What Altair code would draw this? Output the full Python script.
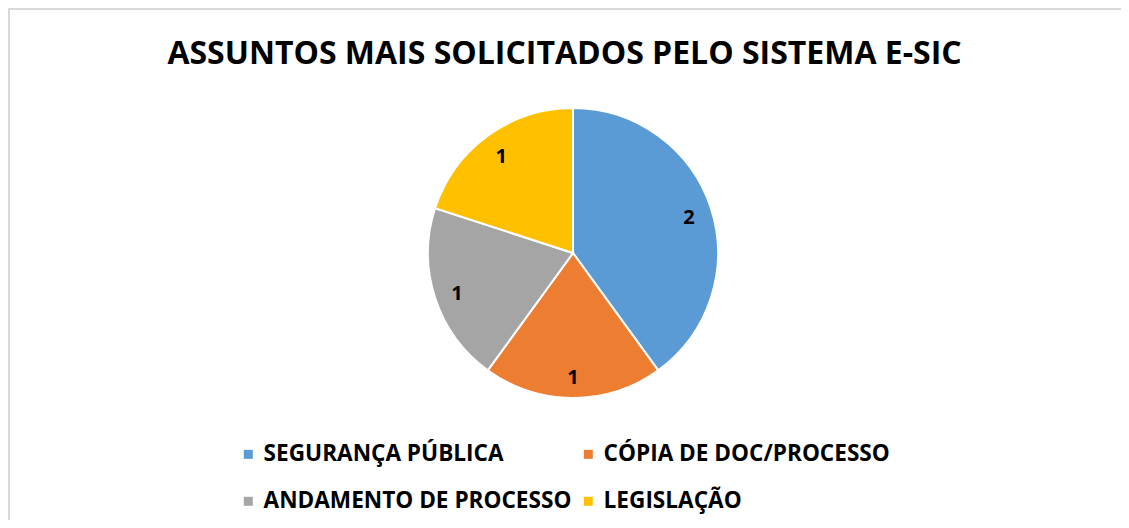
import altair as alt
import pandas as pd

categories = ["SEGURANÇA PÚBLICA", "CÓPIA DE DOC/PROCESSO", "ANDAMENTO DE PROCESSO", "LEGISLAÇÃO"]
values = [2, 1, 1, 1]
colors = ["#5B9BD5", "#ED7D31", "#A5A5A5", "#FFC000"]

df = pd.DataFrame({"assunto": categories, "qtd": values, "ordem": list(range(len(categories)))})

W, H = 1113, 512
CX, CY = 565, 245
FONT = "Open Sans"

base = alt.Chart(df).encode(
    theta=alt.Theta("qtd:Q", stack=True),
    order=alt.Order("ordem:Q", sort="ascending"),
)

pie = base.mark_arc(outerRadius=145, stroke="white", strokeWidth=2).encode(
    x=alt.value(CX),
    y=alt.value(CY),
    color=alt.Color(
        "assunto:N",
        scale=alt.Scale(domain=categories, range=colors),
        sort=categories,
        legend=alt.Legend(
            title=None,
            orient="none",
            legendX=229,
            legendY=435,
            columns=2,
            direction="horizontal",
            symbolType="square",
            symbolSize=81,
            symbolStrokeWidth=0,
            labelFont=FONT,
            labelFontWeight="bold",
            labelFontSize=22.6,
            labelColor="#000000",
            labelLimit=400,
            rowPadding=24,
            columnPadding=5,
            labelOffset=4,
        ),
    ),
)

labels = base.mark_text(radius=122, dy=3, font=FONT, fontWeight="bold", fontSize=20, color="#000000").encode(
    x=alt.value(CX),
    y=alt.value(CY),
    text="qtd:Q",
)

frame_top = alt.Chart(df).mark_rule(color="#D9D9D9", strokeWidth=2).encode(
    x=alt.value(0), x2=alt.value(W), y=alt.value(1)
)
frame_left = alt.Chart(df).mark_rule(color="#D9D9D9", strokeWidth=2).encode(
    x=alt.value(1), y=alt.value(0), y2=alt.value(H)
)

chart = alt.layer(frame_top, frame_left, pie, labels).properties(
    width=W,
    height=H,
    padding=0,
    autosize=alt.AutoSizeParams(type="none"),
    title=alt.TitleParams(
        "ASSUNTOS MAIS SOLICITADOS PELO SISTEMA E-SIC",
        font=FONT,
        fontSize=32,
        fontWeight="bold",
        color="#000000",
        anchor="middle",
        baseline="alphabetic",
        offset=0,
        dy=89,
    ),
).configure_view(stroke=None)

chart.save("out.html", embed_options={"renderer": "svg", "actions": False})
